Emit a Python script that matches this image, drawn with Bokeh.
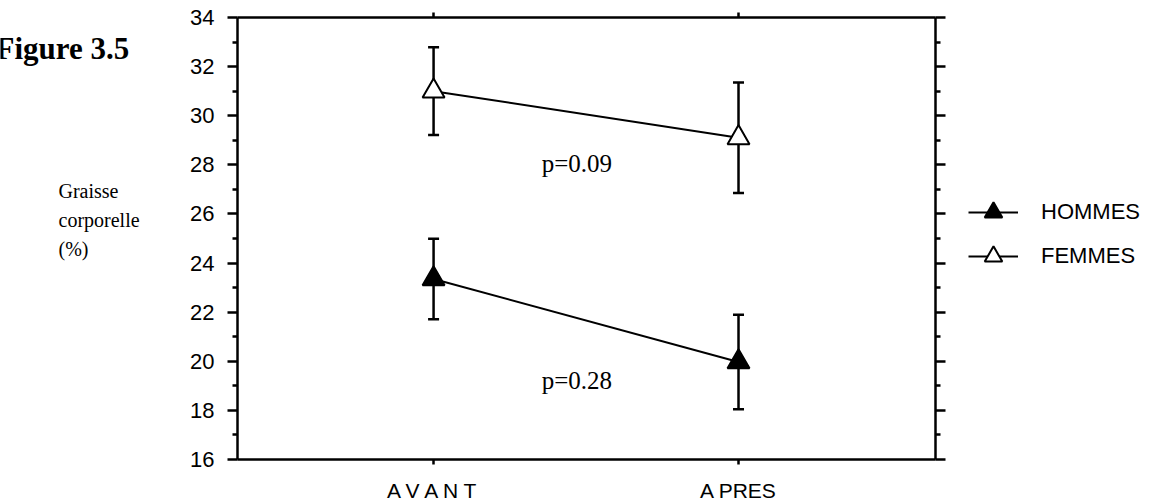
from bokeh.plotting import figure
from bokeh.layouts import row
from bokeh.models import (Range1d, LinearAxis, FixedTicker, Whisker, TeeHead,
                          ColumnDataSource, Label, Legend, LegendItem)
from bokeh.embed import file_html
from bokeh.resources import INLINE

# ---- data ----
categories = ["A V A N T", "A PRES"]
cat_pos = [0, 1]
hommes_mean = [23.35, 19.97]
hommes_err = [1.64, 1.92]
femmes_mean = [31.0, 29.1]
femmes_err = [1.79, 2.25]
y_major = [16, 18, 20, 22, 24, 26, 28, 30, 32, 34]
y_minor = [17, 19, 21, 23, 25, 27, 29, 31, 33]
p_texts = ["p=0.09", "p=0.28"]
p_x = [0.47, 0.47]
p_y = [28.05, 19.23]
series_names = ["HOMMES", "FEMMES"]
ylabel_lines = ["Graisse", "corporelle", "(%)"]

SANS = "Liberation Sans"
SERIF = "Liberation Serif"

# page rows of the plotting frame (frames of a row are aligned)
FRAME_TOP, FRAME_BOTTOM = 17, 459


def blank_fig(w):
    f = figure(width=w, height=504, output_backend="svg", toolbar_location=None,
               x_range=Range1d(0, w), y_range=Range1d(FRAME_BOTTOM, FRAME_TOP),
               x_axis_location=None, y_axis_location=None,
               min_border_left=0, min_border_right=0,
               min_border_top=FRAME_TOP, min_border_bottom=504 - FRAME_BOTTOM)
    f.outline_line_color = None
    f.xgrid.grid_line_color = None
    f.ygrid.grid_line_color = None
    f.background_fill_color = "white"
    f.border_fill_color = "white"
    return f


# ---- left panel: figure number and y title ----
left = blank_fig(180)
left.add_layout(Label(x=-5, y=48, text="Figure 3.5", text_align="left",
                      text_baseline="alphabetic", text_font=SERIF, text_font_style="bold",
                      text_font_size="31px", text_color="black"))
for t, yb in zip(ylabel_lines, [190, 219, 248]):
    left.add_layout(Label(x=58, y=yb, text=t, text_align="left",
                          text_baseline="alphabetic", text_font=SERIF,
                          text_font_size="20px", text_color="black"))

# ---- main plot ----
p = figure(width=770, height=504, output_backend="svg", toolbar_location=None,
           x_range=Range1d(-0.643, 1.646), y_range=Range1d(16, 34),
           x_axis_location=None, y_axis_location=None,
           min_border_left=57, min_border_right=15,
           min_border_top=FRAME_TOP, min_border_bottom=504 - FRAME_BOTTOM)
p.outline_line_color = None
p.xgrid.grid_line_color = None
p.ygrid.grid_line_color = None
p.background_fill_color = "white"
p.border_fill_color = "white"


def style_axis(ax):
    ax.axis_line_width = 2.5
    ax.axis_line_color = "black"
    ax.major_tick_line_width = 2.5
    ax.minor_tick_line_width = 2.5
    ax.major_tick_line_color = "black"
    ax.minor_tick_line_color = "black"
    ax.major_tick_in = 0
    ax.minor_tick_in = 0


yl = LinearAxis(ticker=FixedTicker(ticks=y_major, minor_ticks=y_minor))
style_axis(yl)
yl.major_tick_out = 10
yl.minor_tick_out = 5
yl.major_label_text_font = SANS
yl.major_label_text_font_size = "22px"
yl.major_label_text_color = "black"
yl.major_label_standoff = 13
p.add_layout(yl, "left")

yr = LinearAxis(ticker=FixedTicker(ticks=y_major, minor_ticks=y_minor))
style_axis(yr)
yr.major_tick_out = 10
yr.minor_tick_out = 5
yr.major_label_standoff = 0
yr.major_label_text_font_size = "0px"
p.add_layout(yr, "right")

xb = LinearAxis(ticker=FixedTicker(ticks=cat_pos, minor_ticks=[]))
style_axis(xb)
xb.major_tick_out = 5
xb.major_label_overrides = {c: t for c, t in zip(cat_pos, categories)}
xb.major_label_text_font = SANS
xb.major_label_text_font_size = "21px"
xb.major_label_text_color = "black"
xb.major_label_standoff = 14
p.add_layout(xb, "below")

xt = LinearAxis(ticker=FixedTicker(ticks=cat_pos, minor_ticks=[]))
style_axis(xt)
xt.major_tick_out = 5
xt.major_label_standoff = 0
xt.major_label_text_font_size = "0px"
p.add_layout(xt, "above")

src_h = ColumnDataSource(dict(x=cat_pos, y=hommes_mean,
                              lo=[m - e for m, e in zip(hommes_mean, hommes_err)],
                              hi=[m + e for m, e in zip(hommes_mean, hommes_err)]))
src_f = ColumnDataSource(dict(x=cat_pos, y=femmes_mean,
                              lo=[m - e for m, e in zip(femmes_mean, femmes_err)],
                              hi=[m + e for m, e in zip(femmes_mean, femmes_err)]))

fills = ["black", "white"]
for src, fill in zip([src_h, src_f], fills):
    w = Whisker(base="x", lower="lo", upper="hi", source=src, dimension="height",
                line_width=2.5, line_color="black",
                upper_head=TeeHead(size=11, line_width=2.5, line_color="black"),
                lower_head=TeeHead(size=11, line_width=2.5, line_color="black"))
    p.add_layout(w)
    p.line("x", "y", source=src, line_width=2, line_color="black")
    p.scatter("x", "y", source=src, marker="triangle", size=22,
              fill_color=fill, line_color="black", line_width=2)

for t, x, y in zip(p_texts, p_x, p_y):
    p.add_layout(Label(x=x, y=y, text=t, text_align="center", text_baseline="alphabetic",
                       text_font=SERIF, text_font_size="25px", text_color="black"))

# ---- right panel: legend ----
right = blank_fig(203)
items = []
for name, fill in zip(series_names, fills):
    lr = right.line([-100, -90], [-100, -90], line_width=2, line_color="black")
    sr = right.scatter([-100], [-100], marker="triangle", size=22,
                       fill_color=fill, line_color="black", line_width=2)
    items.append(LegendItem(label=name, renderers=[lr, sr]))
# legend item centres at page rows 213 and 256
legend = Legend(items=items, location=(18, FRAME_BOTTOM - 256 - 22), orientation="vertical",
                glyph_width=50, glyph_height=44, label_height=44, spacing=-1,
                label_standoff=23, padding=0, margin=0,
                border_line_color=None, background_fill_alpha=0,
                label_text_font=SANS, label_text_font_size="22px",
                label_text_color="black")
right.add_layout(legend)

layout = row(left, p, right, spacing=0)
open("out.html", "w").write(file_html(layout, INLINE))
